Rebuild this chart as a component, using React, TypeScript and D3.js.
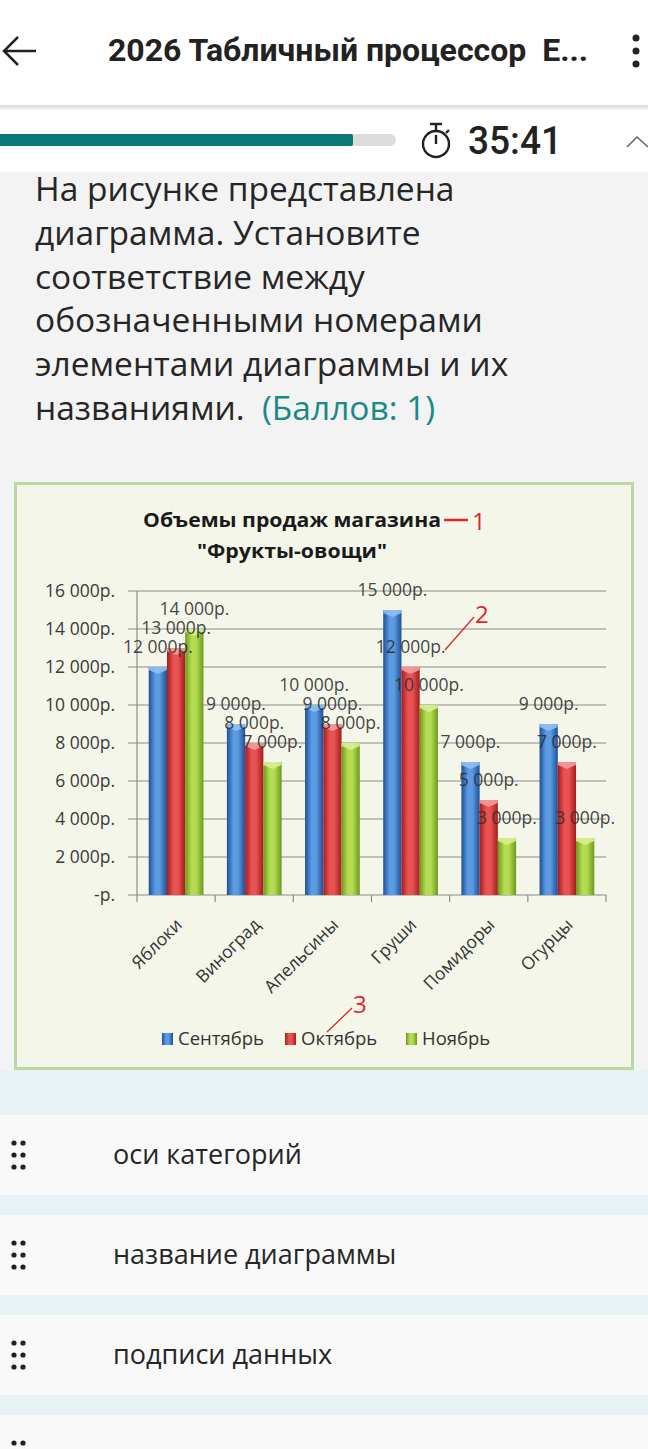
import React from 'react';
import * as d3 from 'd3';

// chart data
const categories = ['Яблоки', 'Виноград', 'Апельсины', 'Груши', 'Помидоры', 'Огурцы'];
const seriesNames = ['Сентябрь', 'Октябрь', 'Ноябрь'];
const september = [12000, 9000, 10000, 15000, 7000, 9000];
const october = [13000, 8000, 9000, 12000, 5000, 7000];
const november = [14000, 7000, 8000, 10000, 3000, 3000];
const yTicks = [0, 2000, 4000, 6000, 8000, 10000, 12000, 14000, 16000];

const chartTitle = ['Объемы продаж магазина', '"Фрукты-овощи"'];
const questionLines = [
  'На рисунке представлена',
  'диаграмма. Установите',
  'соответствие между',
  'обозначенными номерами',
  'элементами диаграммы и их',
  'названиями.',
];
const answerItems = ['оси категорий', 'название диаграммы', 'подписи данных', 'легенда'];

const W = 648;
const H = 1449;

const seriesColors = [
  { dark: '#1f4f98', mid: '#5a9be2', top: '#8fc0f2' },
  { dark: '#a51c1c', mid: '#e85252', top: '#f59a9a' },
  { dark: '#6e981c', mid: '#b4dc52', top: '#d8f090' },
];

const rub = d3.formatLocale({ decimal: ',', thousands: ' ', grouping: [3], currency: ['', 'р.'] });
const fmtNum = rub.format(',');
const fmt = (v: number) => (v === 0 ? '-р.' : fmtNum(v) + 'р.');

const chartFont = '"Open Sans", "Liberation Sans", sans-serif';

function Chart() {
  const table = categories.map((c, i) => ({
    cat: c,
    values: [september[i], october[i], november[i]],
  }));

  const x0 = d3.scaleBand<string>().domain(categories).range([137, 606]).paddingInner(0.3).paddingOuter(0.15);
  const x1 = d3.scaleBand<string>().domain(seriesNames).range([0, x0.bandwidth()]);
  const y = d3.scaleLinear().domain([0, 16000]).range([895, 591]);
  const bw = x1.bandwidth();

  return (
    <g>
      <defs>
        {seriesColors.map((c, i) => (
          <linearGradient key={i} id={`bar-g${i}`} x1="0" x2="1" y1="0" y2="0">
            <stop offset="0%" stopColor={c.dark} />
            <stop offset="35%" stopColor={c.mid} />
            <stop offset="60%" stopColor={c.mid} />
            <stop offset="100%" stopColor={c.dark} />
          </linearGradient>
        ))}
      </defs>
      <rect x={15.5} y={483.5} width={617} height={585} fill="#f4f6ea" stroke="#bcd6a4" strokeWidth={3} />

      {/* title */}
      <text x={292} y={527} textAnchor="middle" fontFamily={chartFont} fontWeight={700} fontSize={20} fill="#1a1a1a"
        textLength={298} lengthAdjust="spacingAndGlyphs">{chartTitle[0]}</text>
      <text x={292} y={558} textAnchor="middle" fontFamily={chartFont} fontWeight={700} fontSize={20} fill="#1a1a1a"
        textLength={190} lengthAdjust="spacingAndGlyphs">{chartTitle[1]}</text>

      {/* grid + y axis */}
      {yTicks.map(t => (
        <g key={t}>
          <line x1={128} x2={606} y1={y(t)} y2={y(t)} stroke="#8a8a8a" strokeWidth={1.2} />
          <text x={115} y={y(t) + 6} textAnchor="end" fontFamily={chartFont} fontSize={17.5} fill="#3a3a3a">{fmt(t)}</text>
        </g>
      ))}
      <line x1={137} x2={137} y1={591} y2={895} stroke="#8a8a8a" strokeWidth={1.2} />
      {d3.range(categories.length + 1).map(i => (
        <line key={i} x1={137 + i * x0.step()} x2={137 + i * x0.step()} y1={895} y2={902} stroke="#8a8a8a" strokeWidth={1.2} />
      ))}

      {/* bars */}
      {table.map(d => (
        <g key={d.cat} transform={`translate(${x0(d.cat)},0)`}>
          {d.values.map((v, si) => {
            const bx = x1(seriesNames[si]) as number;
            const top = y(v);
            const c = seriesColors[si];
            return (
              <g key={si}>
                <rect x={bx} y={top} width={bw} height={895 - top} fill={`url(#bar-g${si})`} />
                <polygon
                  points={`${bx},${top} ${bx + bw},${top} ${bx + bw},${top + 3} ${bx + bw / 2},${top + 7} ${bx},${top + 3}`}
                  fill={c.top} opacity={0.9} />
              </g>
            );
          })}
        </g>
      ))}

      {/* data labels */}
      {table.map(d =>
        d.values.map((v, si) => (
          <text key={d.cat + si} x={(x0(d.cat) as number) + (x1(seriesNames[si]) as number) + bw / 2} y={y(v) - 14}
            textAnchor="middle" fontFamily={chartFont} fontSize={17.5} fill="#2e2e2e" fillOpacity={0.9}>{fmt(v)}</text>
        ))
      )}

      {/* category labels */}
      {categories.map(c => (
        <text key={c} transform={`translate(${(x0(c) as number) + x0.bandwidth() / 2 + 7},926) rotate(-45)`}
          textAnchor="end" fontFamily={chartFont} fontSize={17.5} fill="#333">{c}</text>
      ))}

      {/* legend */}
      {seriesNames.map((s, i) => {
        const lx = [162, 285, 406][i];
        return (
          <g key={s}>
            <rect x={lx} y={1033} width={11} height={12} fill={`url(#bar-g${i})`} />
            <text x={lx + 16} y={1045} fontFamily={chartFont} fontSize={18.5} fill="#333">{s}</text>
          </g>
        );
      })}

      {/* red annotations */}
      <g stroke="#e0262b" fill="#e0262b">
        <line x1={444} x2={468} y1={520} y2={520} strokeWidth={2.5} />
        <text x={472} y={530} stroke="none" fontFamily={chartFont} fontSize={24}>1</text>
        <line x1={445} x2={474} y1={650} y2={617} strokeWidth={1.3} />
        <text x={475} y={623} stroke="none" fontFamily={chartFont} fontSize={24}>2</text>
        <line x1={327} x2={352} y1={1032} y2={1008} strokeWidth={1.3} />
        <text x={353} y={1013} stroke="none" fontFamily={chartFont} fontSize={24}>3</text>
      </g>
    </g>
  );
}

export default function App() {
  const uiFont = '"Open Sans", "Noto Sans", sans-serif';
  return (
    <svg width={W} height={H} viewBox={`0 0 ${W} ${H}`} style={{ position: 'absolute', left: 0, top: 0, display: 'block' }}>
      <defs>
        <linearGradient id="hdr-shadow" x1="0" x2="0" y1="0" y2="1">
          <stop offset="0%" stopColor="#d8d8d8" />
          <stop offset="100%" stopColor="#ffffff" />
        </linearGradient>
      </defs>
      <rect width={W} height={H} fill="#ffffff" />

      {/* app bar */}
      <path d="M36,51 H4 M18,37 L4,51 L18,65" fill="none" stroke="#222" strokeWidth={2.5} />
      <text x={108} y={61} fontFamily="Roboto, sans-serif" fontWeight={700} fontSize={31} fill="#222"
        textLength={480} lengthAdjust="spacingAndGlyphs" style={{ whiteSpace: 'pre' }}>2026 Табличный процессор  Е...</text>
      {[38, 51, 64].map(cy => <circle key={cy} cx={636} cy={cy} r={3.5} fill="#222" />)}
      <rect x={0} y={105} width={W} height={6} fill="url(#hdr-shadow)" />

      {/* progress + timer */}
      <rect x={0} y={134} width={396} height={12} rx={6} fill="#dcdcdc" />
      <rect x={-6} y={134} width={359} height={12} rx={2} fill="#0b7a77" />
      <g fill="none" stroke="#222" strokeWidth={2.4}>
        <circle cx={436} cy={144} r={13} />
        <line x1={430} x2={442} y1={124} y2={124} />
        <line x1={436} x2={436} y1={124} y2={131} />
        <line x1={436} x2={436} y1={144} y2={135} />
        <line x1={446} x2={449} y1={133} y2={130} />
      </g>
      <text x={468} y={154} fontFamily="Roboto, sans-serif" fontWeight={500} fontSize={39} fill="#222"
        textLength={94} lengthAdjust="spacingAndGlyphs">35:41</text>
      <path d="M627,147 L637,137 L648,147" fill="none" stroke="#666" strokeWidth={1.5} />

      {/* question */}
      <rect x={0} y={172} width={W} height={898} fill="#f3f3f3" />
      {questionLines.map((l, i) => (
        <text key={i} x={35} y={201 + i * 43.8} fontFamily={uiFont} fontSize={33.5} fill="#262626" style={{ whiteSpace: 'pre' }}>
          {l}
          {i === questionLines.length - 1 && <tspan fill="#1a8a86">{'  (Баллов: 1)'}</tspan>}
        </text>
      ))}

      <Chart />

      {/* answers */}
      <rect x={0} y={1070} width={W} height={H - 1070} fill="#e7f2f5" />
      {answerItems.map((a, i) => {
        const top = 1115 + i * 100;
        return (
          <g key={a}>
            <rect x={0} y={top} width={W} height={80} fill="#f9f9f9" />
            {[28, 40, 52].map(dy => (
              <g key={dy}>
                <circle cx={14} cy={top + dy} r={2.6} fill="#222" />
                <circle cx={23} cy={top + dy} r={2.6} fill="#222" />
              </g>
            ))}
            <text x={113} y={top + 49} fontFamily={uiFont} fontSize={27} fill="#262626">{a}</text>
          </g>
        );
      })}
    </svg>
  );
}
